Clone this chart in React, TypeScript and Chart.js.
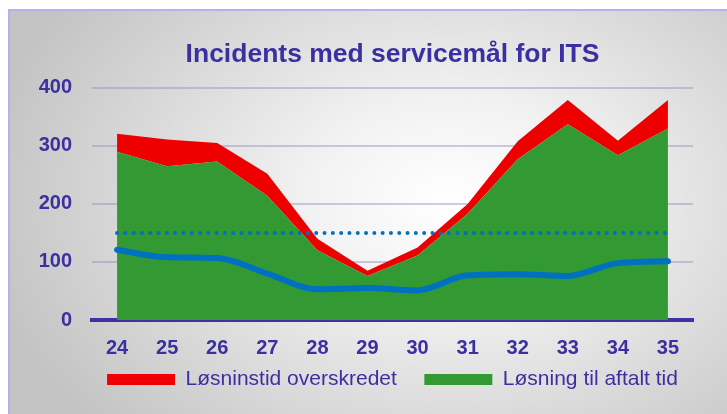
import React, { useEffect, useRef } from "react";
import { Chart, registerables } from "chart.js";

Chart.register(...registerables);

const weeks = ["24", "25", "26", "27", "28", "29", "30", "31", "32", "33", "34", "35"];
const onTime = [290, 265, 273, 214, 120, 76, 111, 183, 277, 337, 284, 330];
const overdue = [31, 46, 32, 38, 20, 9, 14, 17, 31, 42, 25, 49];
const trend = [121, 108, 107, 80, 53, 55, 51, 77, 79, 76, 98, 101];
const target = [150, 150, 150, 150, 150, 150, 150, 150, 150, 150, 150, 150];
const yTicks = [0, 100, 200, 300, 400];

const TEXT = "#3c30a0";
const RED = "#ee0000";
const GREEN = "#339933";
const BLUE = "#0070c0";
const FONT = "'Liberation Sans', Arial, sans-serif";

export default function App() {
  const ref = useRef<HTMLCanvasElement | null>(null);

  useEffect(() => {
    document.body.style.margin = "0";
    const canvas = ref.current!;
    const chart = new Chart(canvas, {
      type: "line",
      data: {
        labels: weeks,
        datasets: [
          {
            label: "Løsning til aftalt tid",
            data: onTime,
            backgroundColor: GREEN,
            borderColor: "#a08060",
            borderWidth: 0,
            fill: "origin",
            pointRadius: 0,
            tension: 0,
            stack: "a",
            order: 2,
          },
          {
            label: "Løsninstid overskredet",
            data: overdue,
            backgroundColor: RED,
            borderColor: RED,
            borderWidth: 0,
            fill: "-1",
            pointRadius: 0,
            tension: 0,
            stack: "a",
            order: 3,
          },
          {
            label: "target",
            data: target,
            borderColor: BLUE,
            borderWidth: 4,
            borderDash: [0, 8.3],
            borderCapStyle: "round",
            fill: false,
            pointRadius: 0,
            stack: "c",
            order: 1,
          },
          {
            label: "trend",
            data: trend,
            borderColor: BLUE,
            borderWidth: 6,
            borderCapStyle: "round",
            fill: false,
            pointRadius: 0,
            tension: 0.4,
            cubicInterpolationMode: "monotone",
            stack: "b",
            order: 0,
          },
        ],
      },
      options: {
        animation: false,
        responsive: false,
        maintainAspectRatio: false,
        layout: { padding: { left: 0, right: 34, top: 0, bottom: 14 } },
        plugins: {
          tooltip: { enabled: false },
          title: {
            display: true,
            fullSize: false,
            text: "Incidents med servicemål for ITS",
            color: TEXT,
            font: { family: FONT, size: 26.5, weight: "bold" },
            padding: { top: 39, bottom: 17 },
          },
          legend: {
            display: true,
            fullSize: false,
            position: "bottom",
            labels: {
              color: TEXT,
              font: { family: FONT, size: 21 },
              boxWidth: 68,
              boxHeight: 11,
              padding: 10,
              generateLabels: () => [
                { text: "Løsninstid overskredet   ", fillStyle: RED, strokeStyle: RED, lineWidth: 0, hidden: false, datasetIndex: 1, fontColor: TEXT },
                { text: "Løsning til aftalt tid", fillStyle: GREEN, strokeStyle: GREEN, lineWidth: 0, hidden: false, datasetIndex: 0, fontColor: TEXT },
              ],
            },
          },
        },
        scales: {
          x: {
            stacked: true,
            offset: true,
            afterFit: (s: any) => {
              s.height = 39;
            },
            grid: { display: false, drawTicks: false },
            border: { display: true, color: "#3c33a0", width: 4 },
            ticks: {
              color: TEXT,
              padding: 16,
              font: { family: FONT, size: 20, weight: "bold" },
            },
          },
          y: {
            stacked: true,
            min: 0,
            max: 400,
            afterFit: (s: any) => {
              s.width = 92;
            },
            afterBuildTicks: (s: any) => {
              s.ticks = yTicks.map((v) => ({ value: v }));
            },
            grid: { color: "rgba(150,140,185,0.45)", lineWidth: 2, drawTicks: false },
            border: { display: false },
            ticks: {
              color: TEXT,
              padding: 20,
              font: { family: FONT, size: 20, weight: "bold" },
            },
          },
        },
      },
    });
    return () => chart.destroy();
  }, []);

  return (
    <div style={{ position: "relative", width: 727, height: 414, overflow: "hidden" }}>
      <div
        style={{
          position: "absolute",
          left: 8,
          top: 9,
          width: 730,
          height: 420,
          boxSizing: "border-box",
          borderLeft: "2px solid #b8b0ec",
          borderTop: "2px solid #b8b0ec",
          background:
            "radial-gradient(ellipse 470px 330px at 440px 190px, #ffffff 0%, #f2f2f2 30%, #c4c4c4 100%)",
        }}
      />
      <canvas ref={ref} width={727} height={414} style={{ position: "absolute", left: 0, top: 0 }} />
    </div>
  );
}
